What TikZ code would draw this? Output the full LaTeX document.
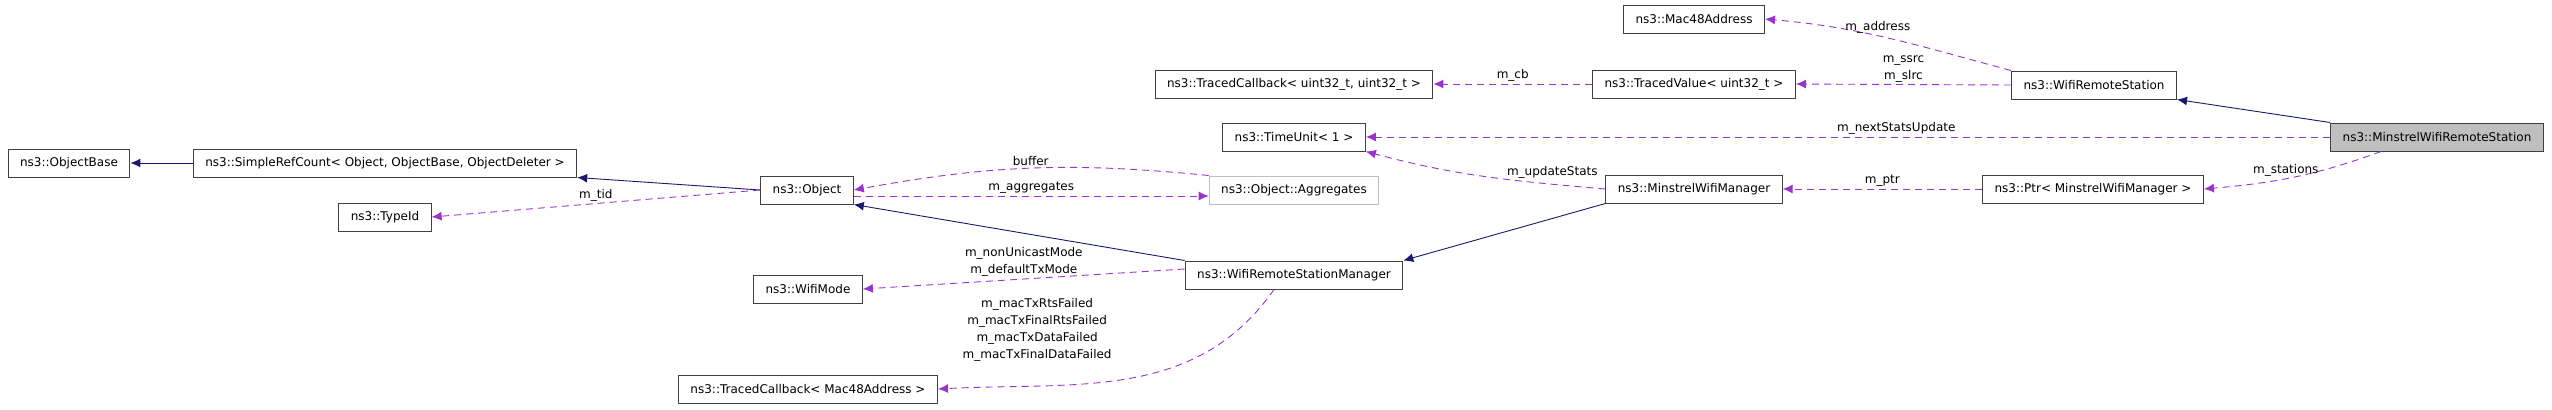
\documentclass[tikz,border=0pt]{standalone}
\usepackage{fontspec}
\setmainfont{DejaVu Sans}
\usetikzlibrary{arrows.meta,positioning}
\definecolor{inh}{HTML}{191970}
\definecolor{use}{HTML}{9A32CD}
\definecolor{boxline}{HTML}{404040}
\tikzset{
  cls/.style={draw=boxline,line width=0.5pt,fill=white,inner xsep=6pt,minimum height=14pt,font=\fontsize{6}{8.5}\selectfont},
  inherit/.style={draw=inh,line width=0.45pt,-{Latex[length=5pt,width=4.5pt]}},
  member/.style={draw=use,line width=0.45pt,dash pattern=on 3.5pt off 2.5pt,-{Latex[length=5pt,width=4.5pt]}},
  lbl/.style={font=\fontsize{6}{8.5}\selectfont,align=center,inner sep=1pt}
}
\begin{document}
\begin{tikzpicture}[x=0.5pt,y=-0.5pt]
  \useasboundingbox (0,0) rectangle (2552,409);
  % classes
  \node[cls] (base) at (69,163) {ns3::ObjectBase};
  \node[cls] (refcount) at (385,163) {ns3::SimpleRefCount< Object, ObjectBase, ObjectDeleter >};
  \node[cls] (typeid) at (385,217) {ns3::TypeId};
  \node[cls] (object) at (807,190) {ns3::Object};
  \node[cls] (wifimode) at (808,289) {ns3::WifiMode};
  \node[cls] (cbmac) at (808,389) {ns3::TracedCallback< Mac48Address >};
  \node[cls] (cbuint) at (1294,84) {ns3::TracedCallback< uint32\_t, uint32\_t >};
  \node[cls] (timeunit) at (1294,137) {ns3::TimeUnit< 1 >};
  \node[cls,draw=black!25] (aggr) at (1294,190) {ns3::Object::Aggregates};
  \node[cls] (manager) at (1294,275) {ns3::WifiRemoteStationManager};
  \node[cls] (mac) at (1694,19) {ns3::Mac48Address};
  \node[cls] (tvalue) at (1694,84) {ns3::TracedValue< uint32\_t >};
  \node[cls] (minmgr) at (1694,189) {ns3::MinstrelWifiManager};
  \node[cls] (station) at (2094,85) {ns3::WifiRemoteStation};
  \node[cls] (ptr) at (2093,189) {ns3::Ptr< MinstrelWifiManager >};
  \node[cls,fill=black!25] (minsta) at (2437,137) {ns3::MinstrelWifiRemoteStation};
  % inheritance
  \draw[inherit] (refcount) -- (base);
  \draw[inherit] (object.west) -- (refcount.south east);
  \draw[inherit] (manager.north west) -- (object.south east);
  \draw[inherit] (minmgr.south west) -- (manager.north east);
  \draw[inherit] (minsta.north west) -- (station.south east);
  % members
  \draw[member] (object.west) -- node[lbl,above,pos=0.5] {m\_tid} (typeid.east);
  \draw[member] (aggr.north west) to[bend right=8] node[lbl,above] {buffer} (object.east);
  \draw[member] ([yshift=-3pt]object.east) -- node[lbl,above] {m\_aggregates} ([yshift=-3pt]aggr.west);
  \draw[member] ([yshift=3pt]manager.west) -- node[lbl,above] {m\_nonUnicastMode\\m\_defaultTxMode} (wifimode.east);
  \draw[member] ([xshift=-10pt]manager.south) to[out=235,in=3]
    node[lbl,at start,anchor=north east,xshift=-80pt,yshift=-3pt] {m\_macTxRtsFailed\\m\_macTxFinalRtsFailed\\m\_macTxDataFailed\\m\_macTxFinalDataFailed} (cbmac.east);
  \draw[member] (minmgr.west) to[out=175,in=-15] node[lbl,above right=-2pt and 10pt] {m\_updateStats} (timeunit.south east);
  \draw[member] (ptr.west) -- node[lbl,above] {m\_ptr} (minmgr.east);
  \draw[member] ([xshift=-28pt]minsta.south) to[out=200,in=5] node[lbl,above,pos=0.55] {m\_stations} (ptr.east);
  \draw[member] (minsta.west) -- node[lbl,above,pos=0.45] {m\_nextStatsUpdate} (timeunit.east);
  \draw[member] (station.west) -- node[lbl,above,pos=0.5] {m\_ssrc\\m\_slrc} (tvalue.east);
  \draw[member] (station.north west) to[out=165,in=-5] node[lbl,above,pos=0.55] {m\_address} (mac.east);
  \draw[member] (tvalue.west) -- node[lbl,above] {m\_cb} (cbuint.east);
\end{tikzpicture}
\end{document}
